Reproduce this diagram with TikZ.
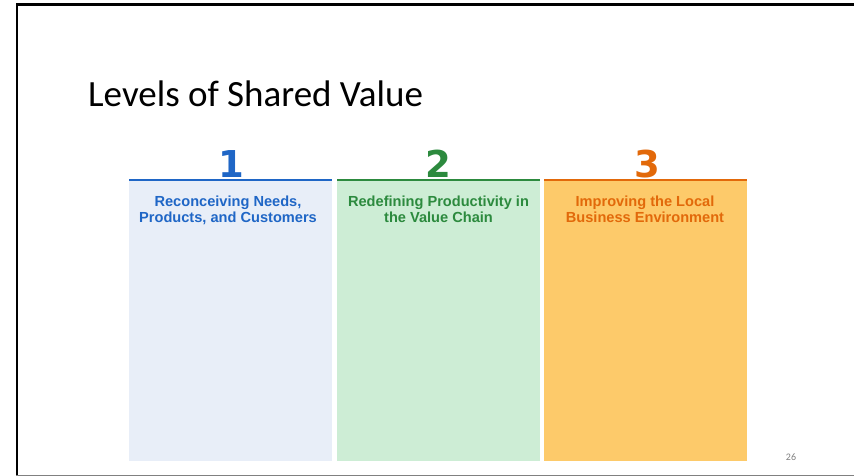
\documentclass[tikz,border=0pt]{standalone}
\usepackage{fontspec}
\setmainfont{Carlito}
\newfontfamily\headfont{Liberation Sans}
\newfontfamily\numfont{DejaVu Sans}
\definecolor{levblue}{HTML}{1F66C6}
\definecolor{levgreen}{HTML}{2C8A3E}
\definecolor{levorange}{HTML}{E2690A}
\definecolor{fillblue}{HTML}{E8EEF8}
\definecolor{fillgreen}{HTML}{CDEDD5}
\definecolor{fillorange}{HTML}{FDCA6A}
\tikzset{
  panel/.style={anchor=north west, inner sep=0, minimum width=203, minimum height=281},
  levnum/.style={anchor=base, font=\numfont\bfseries\fontsize{37}{40}\selectfont},
  levtext/.style={anchor=north, inner sep=0, align=center, font=\headfont\bfseries\fontsize{14.6}{16}\selectfont}
}
\begin{document}
\begin{tikzpicture}[x=1pt, y=-1pt]
\useasboundingbox (0,0) rectangle (854,476);
\draw[line width=2.5pt] (17,476)--(17,4.5)--(854,4.5);
\draw[gray, line width=1.5pt] (16,475.3)--(854,475.3);
\node[anchor=base west, inner sep=0, font=\fontsize{37}{40}\selectfont] (title) at (88,107) {Levels of Shared Value};

% the three levels
\node[panel, fill=fillblue] (p1) at (129,180) {};
\node[panel, fill=fillgreen] (p2) at (337,180) {};
\node[panel, fill=fillorange] (p3) at (544,180) {};
\draw[levblue, line width=2pt] (p1.north west)--(p1.north east);
\draw[levgreen, line width=2pt] (p2.north west)--(p2.north east);
\draw[levorange, line width=2pt] (p3.north west)--(p3.north east);

\node[levnum, levblue] (n1) at (231,177) {1};
\node[levnum, levgreen] (n2) at (438,177) {2};
\node[levnum, levorange] (n3) at (647,177) {3};

\node[levtext, levblue] (t1) at (228,195.5) {Reconceiving Needs,\\Products, and Customers};
\node[levtext, levgreen] (t2) at (438.5,195.5) {Redefining Productivity in\\the Value Chain};
\node[levtext, levorange] (t3) at (645,195.5) {Improving the Local\\Business Environment};

\node[anchor=base, gray, font=\fontsize{10}{11}\selectfont] (page) at (791,460) {26};
\end{tikzpicture}
\end{document}
